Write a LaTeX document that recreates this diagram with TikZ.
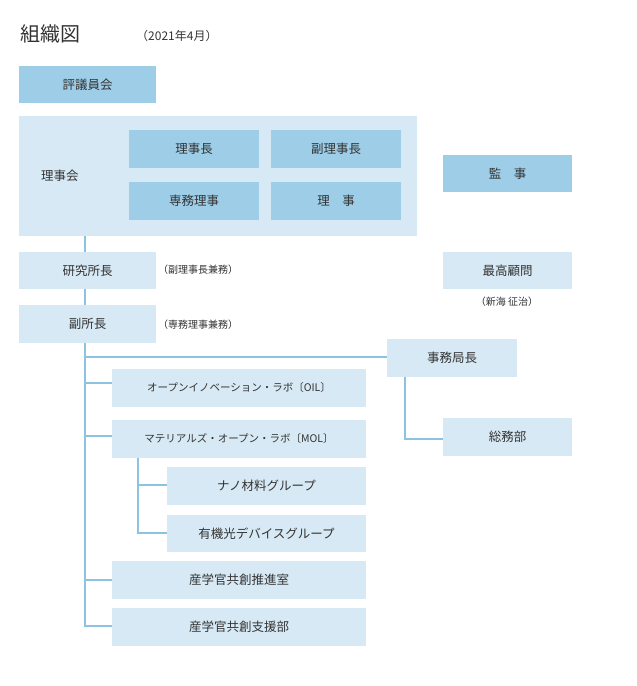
\documentclass[tikz,border=0pt]{standalone}
\usepackage{fontspec}
\setmainfont{Noto Sans CJK JP}
\definecolor{dk}{HTML}{9DCDE7}
\definecolor{lt}{HTML}{D7E9F4}
\definecolor{ln}{HTML}{8CC3E0}
\definecolor{tx}{HTML}{333333}
\begin{document}
\begin{tikzpicture}[x=1pt,y=-1pt,
  bx/.style={inner sep=0pt,text=tx,font=\fontsize{12.5}{14}\selectfont},
  sm/.style={text=tx,font=\fontsize{10}{12}\selectfont,inner sep=0pt},
  lab/.style={text=tx,font=\fontsize{10.5}{12}\selectfont,inner sep=0pt},
  cn/.style={draw=ln,line width=1.2pt}]
\useasboundingbox (0,0) rectangle (637,686);
\newcommand\bxx[6]{\fill[#6] (#2,#3) rectangle (#4,#5); \coordinate (#1) at ({(#2+#4)/2},{(#3+#5)/2});}
% title
\node[anchor=west,text=tx,font=\fontsize{20}{24}\selectfont,inner sep=0pt] (title) at (20,34) {組織図};
\node[anchor=west,text=tx,font=\fontsize{12}{14}\selectfont,inner sep=0pt] (date) at (136,36) {（2021年4月）};
% connectors
\draw[cn] (85,236) -- (85,626) -- (112,626);
\draw[cn] (85,357) -- (387,357);
\draw[cn] (85,383) -- (112,383);
\draw[cn] (85,436) -- (112,436);
\draw[cn] (85,580) -- (112,580);
\draw[cn] (138,458) -- (138,533) -- (167,533);
\draw[cn] (138,485) -- (167,485);
\draw[cn] (405,377) -- (405,439) -- (443,439);
% boxes
\bxx{hyo}{19}{66}{156}{103}{dk}
\node[bx] (hyot) at (hyo) {評議員会};
\bxx{rij}{19}{116}{417}{236}{lt}
\node[bx,anchor=west] (rijt) at (41,176) {理事会};
\bxx{a}{129}{130}{259}{168}{dk}\node[bx] (at) at (a) {理事長};
\bxx{b}{271}{130}{401}{168}{dk}\node[bx] (bt) at (b) {副理事長};
\bxx{c}{129}{182}{259}{220}{dk}\node[bx] (ct) at (c) {専務理事};
\bxx{d}{271}{182}{401}{220}{dk}\node[bx] (dt) at (d) {理　事};
\bxx{kan}{443}{155}{572}{192}{dk}\node[bx] (kant) at (kan) {監　事};
\bxx{ken}{19}{252}{156}{289}{lt}\node[bx] (kent) at (ken) {研究所長};
\node[sm,anchor=west] (kenn) at (158,270) {（副理事長兼務）};
\bxx{sai}{443}{252}{572}{289}{lt}\node[bx] (sait) at (sai) {最高顧問};
\node[sm] (sain) at (507,302) {（新海\ 征治）};
\bxx{fuk}{19}{305}{156}{343}{lt}\node[bx] (fukt) at (fuk) {副所長};
\node[sm,anchor=west] (fukn) at (158,325) {（専務理事兼務）};
\bxx{jim}{387}{339}{517}{377}{lt}\node[bx] (jimt) at (jim) {事務局長};
\bxx{som}{443}{418}{572}{456}{lt}\node[bx] (somt) at (som) {総務部};
\bxx{oil}{112}{369}{366}{407}{lt}\node[lab] (oilt) at (oil) {オープンイノベーション・ラボ〔OIL〕};
\bxx{mol}{112}{420}{366}{458}{lt}\node[lab] (molt) at (mol) {マテリアルズ・オープン・ラボ〔MOL〕};
\bxx{nan}{167}{467}{366}{505}{lt}\node[bx] (nant) at (nan) {ナノ材料グループ};
\bxx{yuk}{167}{515}{366}{552}{lt}\node[bx] (yukt) at (yuk) {有機光デバイスグループ};
\bxx{san}{112}{561}{366}{599}{lt}\node[bx] (sant) at (san) {産学官共創推進室};
\bxx{shi}{112}{608}{366}{646}{lt}\node[bx] (shit) at (shi) {産学官共創支援部};
\end{tikzpicture}
\end{document}
